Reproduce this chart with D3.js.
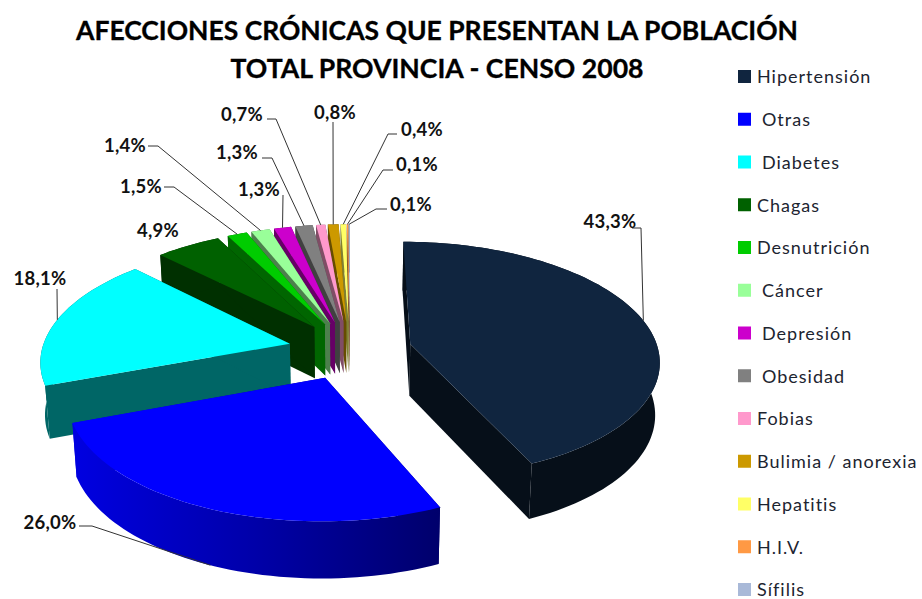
<!DOCTYPE html>
<html lang="es">
<head>
<meta charset="utf-8">
<title>Afecciones crónicas</title>
<script src="https://cdnjs.cloudflare.com/ajax/libs/d3/7.8.5/d3.min.js"></script>
<style>
  html, body { margin: 0; padding: 0; background: #fff; }
  svg { display: block; }
  text { font-family: Lato, "Open Sans", sans-serif; }
</style>
</head>
<body>
<div id="chart"></div>
<script>
// data
const categories = ['Hipertensión', 'Otras', 'Diabetes', 'Chagas', 'Desnutrición', 'Cáncer', 'Depresión',
    'Obesidad', 'Fobias', 'Bulimia / anorexia', 'Hepatitis', 'H.I.V.', 'Sífilis'];
const values = [43.3, 26.0, 18.1, 4.9, 1.5, 1.4, 1.3, 1.3, 0.7, 0.8, 0.4, 0.1, 0.1];
const labels = ['43,3%', '26,0%', '18,1%', '4,9%', '1,5%', '1,4%', '1,3%', '1,3%', '0,7%', '0,8%', '0,4%', '0,1%', '0,1%'];
const topColors = ['#10253f', '#0000ff', '#00ffff', '#006100', '#00cc00', '#99ff99', '#cc00cc',
    '#808080', '#ff99cc', '#cc9900', '#ffff66', '#ff9944', '#a9b9d8'];
const wallColors = ['#060f19', '#0000a8', '#006666', '#003000', '#006600', '#4d804d', '#660066',
    '#404040', '#804d66', '#664d00', '#808033', '#804d22', '#55606c'];
const titleLines = ['AFECCIONES CRÓNICAS QUE PRESENTAN LA POBLACIÓN', 'TOTAL PROVINCIA - CENSO 2008'];
const indented = new Set(['Otras', 'Diabetes', 'Cáncer', 'Depresión', 'Obesidad']);

const width = 922;
const height = 599;

// flattened perspective of the pie, fitted on the reference
const cx = 350, cy = 350;
const radiusX = 248, radiusY = 117, persp = 0.13;
const explode = 0.25, depth = 52;

const project = (u, v, bottom) => {
    const w = 1 - persp * v;
    let x = radiusX * u / w;
    let y = radiusY * v / w;
    if (bottom) {
        x *= 0.985;
        y = y * 1.03 + depth;
    }
    return [cx + x, cy + y];
};

const svg = d3.select('#chart')
    .append('svg')
    .attr('width', width)
    .attr('height', height);

// title
svg.selectAll('.title')
    .data(titleLines)
    .join('text')
    .attr('class', 'title')
    .attr('x', 437)
    .attr('y', (d, i) => 40 + i * 38)
    .attr('text-anchor', 'middle')
    .attr('font-size', 26)
    .attr('font-weight', 700)
    .attr('fill', '#000')
    .attr('stroke', '#000')
    .attr('stroke-width', 0.3)
    .attr('textLength', (d, i) => i === 0 ? 722 : 413)
    .attr('lengthAdjust', 'spacingAndGlyphs')
    .text(d => d);

// slices
const arcs = d3.pie().sort(null).value(d => d)(values).map((a, i) => {
    const mid = (a.startAngle + a.endAngle) / 2;
    const ou = explode * Math.sin(mid), ov = -explode * Math.cos(mid);
    const n = Math.max(2, Math.ceil((a.endAngle - a.startAngle) / 0.03));
    const rim = d3.range(n + 1).map(k => {
        const t = a.startAngle + (a.endAngle - a.startAngle) * k / n;
        return [ou + Math.sin(t), ov - Math.cos(t)];
    });
    return { i, mid, ou, ov, rim, apex: [ou, ov], outline: [[ou, ov], ...rim] };
});

const blue = arcs[1];
const blueX = d3.extent(blue.rim, p => project(p[0], p[1], true)[0]);
svg.append('defs').append('linearGradient')
    .attr('id', 'blue-wall')
    .attr('gradientUnits', 'userSpaceOnUse')
    .attr('x1', blueX[0]).attr('x2', blueX[1])
    .attr('y1', 0).attr('y2', 0)
    .selectAll('stop')
    .data([['0%', '#0000e0'], ['50%', '#0000a8'], ['100%', '#00006c']])
    .join('stop')
    .attr('offset', d => d[0])
    .attr('stop-color', d => d[1]);

const wallPaint = d => d.i === 1 ? 'url(#blue-wall)' : wallColors[d.i];
const line = d3.line();

// one strip between the top edge and the bottom edge of a run of outline points
const strip = pts => line([
    ...pts.map(p => project(p[0], p[1])),
    ...pts.slice().reverse().map(p => project(p[0], p[1], true))
]) + 'Z';

// back to front
const ordered = arcs.slice().sort((a, b) => a.ov - b.ov);
const sliceG = svg.selectAll('.slice')
    .data(ordered)
    .join('g')
    .attr('class', 'slice');

sliceG.selectAll('.wall')
    .data(d => [[d.apex, d.rim[0]], [d.rim[d.rim.length - 1], d.apex], d.rim].map(pts => ({ d, pts })))
    .join('path')
    .attr('class', 'wall')
    .attr('d', s => strip(s.pts))
    .attr('fill', s => wallPaint(s.d));

sliceG.append('path')
    .attr('d', d => line(d.outline.map(p => project(p[0], p[1]))) + 'Z')
    .attr('fill', d => topColors[d.i]);

// data labels: text centre and leader elbow
const labelLayout = [
    { x: 610, y: 222, elbow: [641, 228], from: [632, 228] },
    { x: 50, y: 523, elbow: [92, 526], from: [79, 526] },
    { x: 40, y: 279, elbow: [57, 289], from: null },
    { x: 158, y: 231, elbow: null, from: null },
    { x: 141, y: 187, elbow: [174, 187], from: [164, 187] },
    { x: 125, y: 146, elbow: [158, 146], from: [148, 146] },
    { x: 259, y: 190, elbow: [283, 195], from: null },
    { x: 237, y: 153, elbow: [272, 158], from: [262, 158] },
    { x: 242, y: 115, elbow: [276, 119], from: [267, 119] },
    { x: 335, y: 113, elbow: [333, 122], from: null },
    { x: 422, y: 130, elbow: [388, 134], from: [397, 134] },
    { x: 417, y: 165, elbow: [383, 170], from: [393, 170] },
    { x: 411, y: 205, elbow: [376, 209], from: [387, 209] }
];

const anchor = d => {
    const u = d.ou + Math.sin(d.mid), v = d.ov - Math.cos(d.mid);
    return project(u, v, v > 0.5);
};

svg.selectAll('.leader')
    .data(arcs.filter(d => labelLayout[d.i].elbow))
    .join('path')
    .attr('class', 'leader')
    .attr('d', d => {
        const l = labelLayout[d.i];
        return line([l.from, l.elbow, anchor(d)].filter(Boolean));
    })
    .attr('fill', 'none')
    .attr('stroke', '#333')
    .attr('stroke-width', 1);

svg.selectAll('.label')
    .data(labels)
    .join('text')
    .attr('class', 'label')
    .attr('x', (d, i) => labelLayout[i].x)
    .attr('y', (d, i) => labelLayout[i].y)
    .attr('dy', '0.35em')
    .attr('text-anchor', 'middle')
    .attr('font-size', 18.5)
    .attr('font-weight', 700)
    .attr('letter-spacing', 0.3)
    .attr('fill', '#111')
    .text(d => d);

// legend
const legendY = d3.scalePoint().domain(categories).range([77, 590]);
const legend = svg.selectAll('.legend')
    .data(categories)
    .join('g')
    .attr('class', 'legend')
    .attr('transform', d => `translate(0, ${legendY(d)})`);

legend.append('rect')
    .attr('x', 738)
    .attr('y', -7)
    .attr('width', 13)
    .attr('height', 13)
    .attr('fill', (d, i) => topColors[i]);

legend.append('text')
    .attr('x', d => indented.has(d) ? 762 : 757)
    .attr('dy', '0.35em')
    .attr('font-size', 18)
    .attr('letter-spacing', 1)
    .attr('fill', '#1c2430')
    .text(d => d);
</script>
</body>
</html>
